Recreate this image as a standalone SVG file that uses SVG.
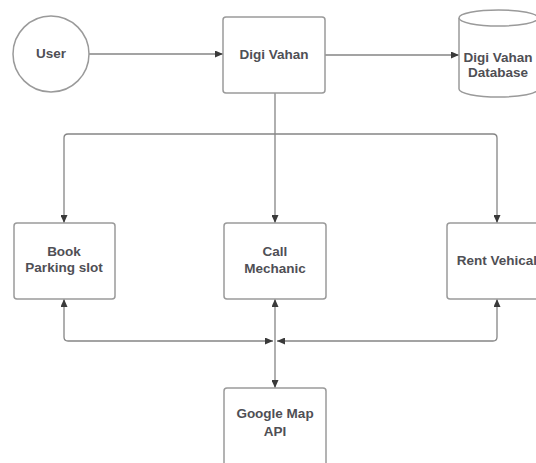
<svg xmlns="http://www.w3.org/2000/svg" width="536" height="463" viewBox="0 0 536 463">
<style>
.n{fill:#fff;stroke:#9a9a9a;stroke-width:1.5}
.t{font-family:"Liberation Sans",Arial,sans-serif;font-weight:bold;font-size:13.5px;fill:#4f4f55;text-anchor:middle;dominant-baseline:central}
.c{fill:none;stroke:#858585;stroke-width:1.3}
</style>
<defs>
<marker id="a" viewBox="0 0 10 10" refX="10" refY="5" markerWidth="8" markerHeight="7" markerUnits="userSpaceOnUse" orient="auto" preserveAspectRatio="none">
<path d="M0,0 L10,5 L0,10 z" fill="#3a3a3a"/>
</marker>
<marker id="b" viewBox="0 0 10 10" refX="0" refY="5" markerWidth="8" markerHeight="7" markerUnits="userSpaceOnUse" orient="auto" preserveAspectRatio="none">
<path d="M10,0 L0,5 L10,10 z" fill="#3a3a3a"/>
</marker>
</defs>
<rect width="536" height="463" fill="#fff"/>
<g id="connectors">
<path class="c" d="M89,54 H223" marker-end="url(#a)"/>
<path class="c" d="M325,55 H459" marker-end="url(#a)"/>
<path class="c" d="M275,93 V223" marker-end="url(#a)"/>
<path class="c" d="M275,134 H68 Q64,134 64,138 V223" marker-end="url(#a)"/>
<path class="c" d="M275,134 H493 Q497,134 497,138 V223" marker-end="url(#a)"/>
<path class="c" d="M273,341 H68 Q64,341 64,337 V299" marker-start="url(#b)" marker-end="url(#a)"/>
<path class="c" d="M277,341 H493 Q497,341 497,337 V299" marker-start="url(#b)" marker-end="url(#a)"/>
<path class="c" d="M275,299 V388" marker-start="url(#b)" marker-end="url(#a)"/>
</g>
<g id="user">
<circle class="n" cx="51" cy="54" r="38"/>
<text class="t" x="51" y="53">User</text>
</g>
<g id="digi-vahan">
<rect class="n" x="223" y="17" width="102" height="76" rx="3"/>
<text class="t" x="274" y="54">Digi Vahan</text>
</g>
<g id="database">
<path class="n" d="M459,18 A39.5,8 0 0 1 538,18 V89 A39.5,8 0 0 1 459,89 Z"/>
<path class="n" fill="none" d="M459,18 A39.5,8 0 0 0 538,18"/>
<text class="t" x="498" y="57">Digi Vahan</text>
<text class="t" x="498" y="72">Database</text>
</g>
<g id="book-parking">
<rect class="n" x="14" y="223" width="101" height="76" rx="3"/>
<text class="t" x="64" y="251">Book</text>
<text class="t" x="64" y="267">Parking slot</text>
</g>
<g id="call-mechanic">
<rect class="n" x="224" y="223" width="102" height="76" rx="3"/>
<text class="t" x="275" y="251">Call</text>
<text class="t" x="275" y="268">Mechanic</text>
</g>
<g id="rent-vehical">
<rect class="n" x="447" y="223" width="102" height="76" rx="3"/>
<text class="t" x="497" y="260">Rent Vehical</text>
</g>
<g id="google-map">
<rect class="n" x="224" y="388" width="102" height="78" rx="3"/>
<text class="t" x="275" y="413">Google Map</text>
<text class="t" x="275" y="431">API</text>
</g>
</svg>
